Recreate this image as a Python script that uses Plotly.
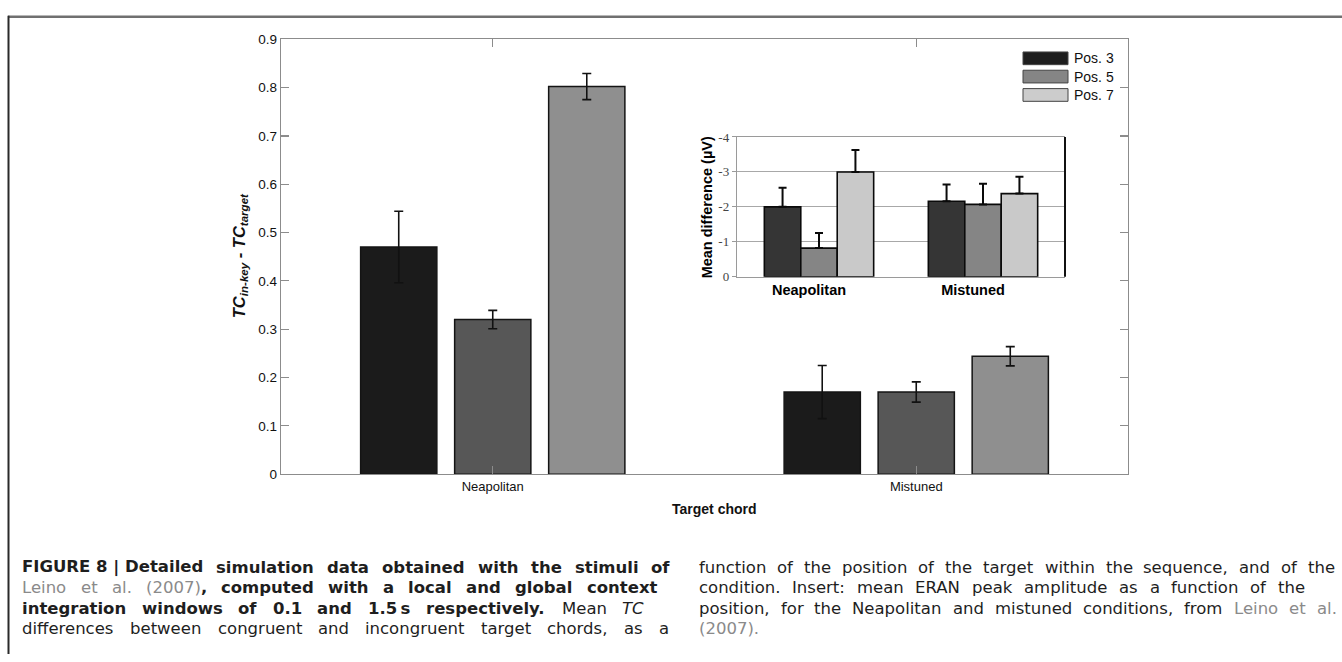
import plotly.graph_objects as go

W, H = 1342, 662

# ---------------- data ----------------
CATEGORIES = ["Neapolitan", "Mistuned"]
POSITIONS = ["Pos. 3", "Pos. 5", "Pos. 7"]

# main: TC(in-key) - TC(target)
TC_POS3 = [0.470, 0.170]
TC_POS5 = [0.320, 0.170]
TC_POS7 = [0.802, 0.244]
TC_ERR_POS3 = [0.074, 0.055]
TC_ERR_POS5 = [0.019, 0.021]
TC_ERR_POS7 = [0.027, 0.020]

# inset: mean ERAN difference (µV)
ERAN_POS3 = [-2.00, -2.16]
ERAN_POS5 = [-0.82, -2.07]
ERAN_POS7 = [-3.00, -2.38]
ERAN_ERR_POS3 = [0.55, 0.48]
ERAN_ERR_POS5 = [0.43, 0.59]
ERAN_ERR_POS7 = [0.63, 0.48]
ERAN_ERR_UP = [0, 0]

MAIN_YTICKS = [0, 0.1, 0.2, 0.3, 0.4, 0.5, 0.6, 0.7, 0.8, 0.9]
MAIN_YTICK_LABELS = ["0", "0.1", "0.2", "0.3", "0.4", "0.5", "0.6", "0.7", "0.8", "0.9"]
INSET_YTICKS = [0, -1, -2, -3, -4]
INSET_YTICK_LABELS = ["0", "-1", "-2", "-3", "-4"]

# ---------------- styles ----------------
MAIN_COLORS = ["#1b1b1b", "#575757", "#8f8f8f"]
INSET_COLORS = ["#353535", "#858585", "#c9c9c9"]
LEGEND_COLORS = ["#1e1e1e", "#858585", "#cccccc"]
AXIS_GRAY = "#8c8c8c"
LINK_GRAY = "#8a8a8a"


def px(x):
    return x / W


def py(y):
    return 1 - y / H


fig = go.Figure()

main_vals = [TC_POS3, TC_POS5, TC_POS7]
main_errs = [TC_ERR_POS3, TC_ERR_POS5, TC_ERR_POS7]
main_width = 0.18
main_step = 0.222
for i in range(3):
    center = (i - 1) * main_step
    fig.add_trace(go.Bar(
        x=CATEGORIES, y=main_vals[i], name=POSITIONS[i],
        xaxis="x", yaxis="y",
        width=main_width, offset=center - main_width / 2,
        marker=dict(color=MAIN_COLORS[i], line=dict(color="#141414", width=1.5)),
        error_y=dict(type="data", array=main_errs[i], color="#111111",
                     thickness=1.6, width=4.5, visible=True),
        showlegend=False, hoverinfo="skip",
    ))

inset_vals = [ERAN_POS3, ERAN_POS5, ERAN_POS7]
inset_errs = [ERAN_ERR_POS3, ERAN_ERR_POS5, ERAN_ERR_POS7]
inset_width = 1 / 4.5
for i in range(3):
    center = (i - 1) * inset_width
    fig.add_trace(go.Bar(
        x=CATEGORIES, y=inset_vals[i], name=POSITIONS[i],
        xaxis="x2", yaxis="y2",
        width=inset_width, offset=center - inset_width / 2,
        marker=dict(color=INSET_COLORS[i], line=dict(color="#0a0a0a", width=1.6)),
        error_y=dict(type="data", symmetric=False, array=ERAN_ERR_UP,
                     arrayminus=inset_errs[i], color="#0a0a0a",
                     thickness=2, width=4, visible=True),
        showlegend=False, hoverinfo="skip",
    ))

CHART_FONT = "Liberation Sans, Arial, sans-serif"

fig.update_layout(
    width=W, height=H, autosize=False,
    margin=dict(l=0, r=0, t=0, b=0),
    paper_bgcolor="white", plot_bgcolor="white",
    barmode="overlay", showlegend=False,
    font=dict(family=CHART_FONT, size=13, color="black"),
    xaxis=dict(
        domain=[px(281), px(1128)], anchor="y",
        type="category", categoryorder="array", categoryarray=CATEGORIES,
        range=[-0.5, 1.5],
        showline=True, linecolor=AXIS_GRAY, linewidth=1.3, mirror="ticks",
        ticks="inside", ticklen=8, tickcolor=AXIS_GRAY, tickwidth=1.2,
        tickfont=dict(family=CHART_FONT, size=13, color="#111"),
        showgrid=False, zeroline=False, fixedrange=True,
    ),
    yaxis=dict(
        domain=[py(478), py(33)], anchor="x",
        range=[0, 0.9], tickvals=MAIN_YTICKS, ticktext=MAIN_YTICK_LABELS,
        showline=True, linecolor=AXIS_GRAY, linewidth=1.3, mirror="ticks",
        ticks="inside", ticklen=8, tickcolor=AXIS_GRAY, tickwidth=1.2,
        tickfont=dict(family=CHART_FONT, size=13.5, color="#111"),
        showgrid=False, zeroline=False, fixedrange=True,
    ),
    xaxis2=dict(
        domain=[px(737), px(1065)], anchor="y2",
        type="category", categoryorder="array", categoryarray=CATEGORIES,
        range=[-0.5, 1.5],
        showline=True, linecolor="#9a9a9a", linewidth=1.2, mirror=True,
        ticks="", ticklabelshift=-10,
        tickfont=dict(family=CHART_FONT, size=14.5, color="black", weight="bold"),
        showgrid=False, zeroline=False, fixedrange=True,
    ),
    yaxis2=dict(
        domain=[py(276), py(133)], anchor="x2",
        range=[0, -4], tickvals=INSET_YTICKS, ticktext=INSET_YTICK_LABELS,
        showline=True, linecolor="#9a9a9a", linewidth=1.2,
        ticks="outside", ticklen=4, tickcolor="#9a9a9a",
        tickfont=dict(family="Liberation Serif, Times New Roman, serif", size=13, color="#444"),
        showgrid=True, gridcolor="#a8a8a8", gridwidth=1,
        zeroline=False, fixedrange=True,
    ),
)

shapes = []
# inset right border (black)
shapes.append(dict(type="line", xref="x2 domain", yref="y2 domain", x0=1, x1=1, y0=0, y1=1,
                   line=dict(color="#111", width=2)))
# figure frame (top gray rule, left dark rule)
shapes.append(dict(type="line", xref="paper", yref="paper", x0=px(8), x1=1, y0=py(10), y1=py(10),
                   line=dict(color="#707070", width=2.5)))
shapes.append(dict(type="line", xref="paper", yref="paper", x0=px(8.5), x1=px(8.5), y0=py(9), y1=0,
                   line=dict(color="#2a2a2a", width=2)))

annotations = []
# legend (manual, wide swatches)
leg_rows = [52.5, 71.2, 90]
for i in range(3):
    yc = leg_rows[i]
    shapes.append(dict(type="rect", xref="paper", yref="paper",
                       x0=px(1023), x1=px(1068), y0=py(yc + 6.5), y1=py(yc - 6.5),
                       fillcolor=LEGEND_COLORS[i], line=dict(color="#444", width=1)))
    annotations.append(dict(text=POSITIONS[i], xref="paper", yref="paper",
                            x=px(1073), y=py(yc), xanchor="left", yanchor="middle",
                            showarrow=False, borderpad=0,
                            font=dict(family=CHART_FONT, size=14, color="#111")))

# axis titles
annotations.append(dict(text="<b><i>TC<sub>in-key</sub> - TC<sub>target</sub></i></b>",
                        xref="paper", yref="paper", x=px(240), y=py(255),
                        xanchor="center", yanchor="middle", textangle=-90, showarrow=False,
                        font=dict(family=CHART_FONT, size=16.5, color="#111")))
annotations.append(dict(text="<b>Target chord</b>", xref="paper", yref="paper",
                        x=px(714), y=py(514), xanchor="center", yanchor="middle",
                        showarrow=False, font=dict(family=CHART_FONT, size=14, color="#111")))
annotations.append(dict(text="<b>Mean difference (µV)</b>", xref="paper", yref="paper",
                        x=px(707), y=py(205), xanchor="center", yanchor="middle",
                        textangle=-90, showarrow=False,
                        font=dict(family=CHART_FONT, size=14.5, color="black")))

# ---------------- caption (justified, word by word) ----------------
CAP_FONT = "DejaVu Sans"
CAP_SIZE = 16.5
REG = dict(zip("abcdefghijklmnopqrstuvwxyz",
               [613, 635, 550, 635, 615, 352, 635, 634, 278, 278, 579, 278, 974, 634, 612, 635, 635,
                411, 521, 392, 634, 592, 818, 592, 592, 525]))
REG.update(zip("ABCDEFGHIJKLMNOPQRSTUVWXYZ",
               [684, 686, 698, 770, 632, 575, 775, 752, 295, 295, 656, 557, 863, 748, 787, 603, 787,
                695, 635, 611, 732, 684, 989, 685, 611, 685]))
REG.update({c: 636 for c in "0123456789"})
REG.update({" ": 318, "\u00a0": 318, "\u2009": 200, "(": 390, ")": 390, ",": 318, "-": 361,
            ".": 318, ":": 337, "|": 337})
BOLD = dict(zip("abcdefghijklmnopqrstuvwxyz",
                [675, 716, 593, 716, 678, 435, 716, 712, 343, 343, 665, 343, 1042, 712, 687, 716, 716,
                 493, 595, 478, 712, 652, 924, 645, 652, 582]))
BOLD.update(zip("ABCDEFGHIJKLMNOPQRSTUVWXYZ",
                [774, 762, 734, 830, 683, 683, 821, 837, 372, 372, 775, 637, 995, 837, 850, 733, 850,
                 770, 720, 682, 812, 774, 1103, 771, 724, 725]))
BOLD.update({c: 696 for c in "0123456789"})
BOLD.update({" ": 348, "\u00a0": 348, "\u2009": 220, "(": 457, ")": 457, ",": 380, "-": 415,
             ".": 380, ":": 400, "|": 366})


def seg_width(text, style):
    table = BOLD if style == "b" else REG
    return sum(table.get(ch, 620) for ch in text) / 1000 * CAP_SIZE


def seg_html(text, style):
    if style == "b":
        return "<b>" + text + "</b>"
    if style == "g":
        return "<span style='color:%s'>%s</span>" % (LINK_GRAY, text)
    if style == "i":
        return "<i>" + text + "</i>"
    return text


def words(text, style):
    return [[(w, style)] for w in text.split(" ")]


CAP_L = 21
CAPTION_LINES = [
    (words("FIGURE\u00a08\u00a0|\u00a0Detailed simulation data obtained with the stimuli of", "b"),
     CAP_L, 669, 573),
    (words("Leino et al.", "g") + [[("(2007)", "g"), (",", "b")]]
     + words("computed with a local and global context", "b"), CAP_L, 656, 594),
    (words("integration windows of 0.1 and 1.5\u2009s respectively.", "b")
     + words("Mean", "r") + words("TC", "i"), CAP_L, 643, 615),
    (words("differences between congruent and incongruent target chords, as a", "r"), CAP_L, 668, 636),
    (words("function of the position of the target within the sequence, and of the", "r"),
     698, 1334, 573),
    (words("condition. Insert: mean ERAN peak amplitude as a function of the", "r"), 698, 1304, 594),
    (words("position, for the Neapolitan and mistuned conditions, from", "r")
     + words("Leino et al.", "g"), 698, 1336, 615),
    ([[("(2007).", "g")]], 698, None, 636),
]

for line_words, x_left, x_right, y_line in CAPTION_LINES:
    widths = [sum(seg_width(t, s) for t, s in w) for w in line_words]
    n = len(line_words)
    if x_right is None or n == 1:
        gap = seg_width(" ", "r")
    else:
        gap = (x_right - x_left - sum(widths)) / (n - 1)
    x = x_left
    for w, wd in zip(line_words, widths):
        annotations.append(dict(
            text="".join(seg_html(t, s) for t, s in w),
            xref="paper", yref="paper", x=px(x), y=py(y_line),
            xanchor="left", yanchor="middle", showarrow=False, borderpad=0,
            font=dict(family=CAP_FONT, size=CAP_SIZE, color="#1e1e1e"),
        ))
        x += wd + gap

fig.update_layout(shapes=shapes, annotations=annotations)

fig.write_html("out.html", config={"displayModeBar": False, "staticPlot": True})
